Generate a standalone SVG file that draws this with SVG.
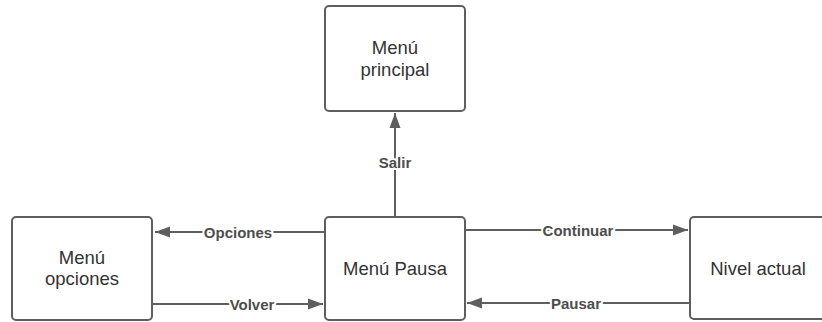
<svg xmlns="http://www.w3.org/2000/svg" width="822" height="322" viewBox="0 0 822 322">
  <style>
    .node rect { fill: #ffffff; stroke: #5e5e5e; stroke-width: 2; }
    .node text { font-family: "Liberation Sans", Arial, sans-serif; font-size: 18.5px; fill: #333333; text-anchor: middle; }
    .edge { fill: none; stroke: #5e5e5e; stroke-width: 2; }
    .lbl { font-family: "Liberation Sans", Arial, sans-serif; font-size: 15px; font-weight: bold; fill: #4d4d4d; text-anchor: middle; dominant-baseline: central; paint-order: stroke; stroke: #ffffff; stroke-width: 4px; stroke-linejoin: round; }
  </style>
  <defs>
    <marker id="arrow" markerUnits="userSpaceOnUse" markerWidth="16" markerHeight="12" refX="15" refY="6" orient="auto">
      <path d="M0,0.5 L15,6 L0,11.5 Z" fill="#5e5e5e"/>
    </marker>
  </defs>

  <g id="connectors">
    <path class="edge" d="M395,217 L395,113" marker-end="url(#arrow)"/>
    <path class="edge" d="M325,232 L155,232" marker-end="url(#arrow)"/>
    <path class="edge" d="M152,304 L323,304" marker-end="url(#arrow)"/>
    <path class="edge" d="M465,230 L688,230" marker-end="url(#arrow)"/>
    <path class="edge" d="M690,303 L467,303" marker-end="url(#arrow)"/>
    <text class="lbl" x="395" y="162">Salir</text>
    <text class="lbl" x="238" y="232">Opciones</text>
    <text class="lbl" x="252" y="304">Volver</text>
    <text class="lbl" x="578" y="230">Continuar</text>
    <text class="lbl" x="576" y="303">Pausar</text>
  </g>

  <g id="menu-principal" class="node">
    <rect x="325" y="6" width="140" height="105" rx="4"/>
    <text x="395" y="54">Menú</text>
    <text x="395" y="76">principal</text>
  </g>

  <g id="menu-opciones" class="node">
    <rect x="12" y="217" width="140" height="103" rx="4"/>
    <text x="82" y="264">Menú</text>
    <text x="82" y="285">opciones</text>
  </g>

  <g id="menu-pausa" class="node">
    <rect x="325" y="217" width="140" height="103" rx="4"/>
    <text x="395" y="275">Menú Pausa</text>
  </g>

  <g id="nivel-actual" class="node">
    <rect x="690" y="217" width="140" height="102" rx="4"/>
    <text x="758" y="275">Nivel actual</text>
  </g>
</svg>
